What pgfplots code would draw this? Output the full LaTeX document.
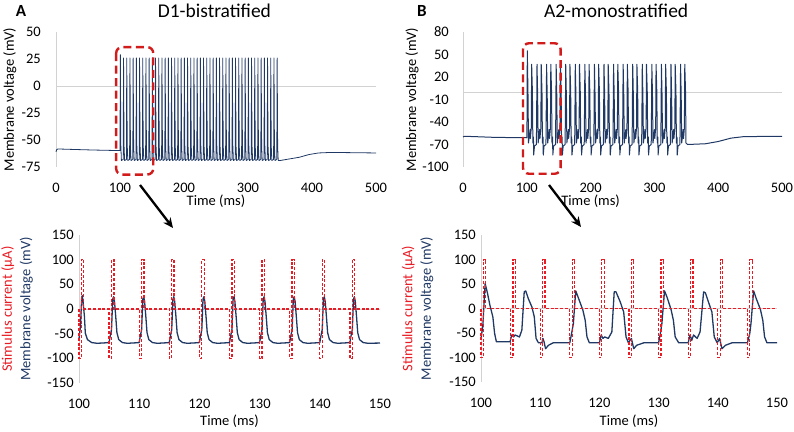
\documentclass[border=0pt]{standalone}
\usepackage{fontspec}
\setmainfont{Carlito}
\usepackage{pgfplots}
\pgfplotsset{compat=1.18}
\usetikzlibrary{arrows.meta}
\definecolor{navy}{RGB}{32,56,100}
\definecolor{sred}{RGB}{232,28,36}
\definecolor{boxred}{RGB}{210,28,28}
\definecolor{axgray}{RGB}{210,210,210}
\pgfplotsset{
  base/.style={scale only axis, clip=false,
    axis line style={draw=none}, major tick length=0pt, tick style={draw=none},
    /pgf/number format/assume math mode=true,
    ticklabel style={font=\fontsize{14.5}{17}\selectfont, inner sep=0pt},
    xticklabel style={anchor=center, yshift=-20.5pt},
    label style={font=\fontsize{14.5}{18.5}\selectfont},
    title style={font=\fontsize{19.5}{22}\selectfont, anchor=center},
    extra y ticks={0}, extra y tick labels={},
    extra y tick style={ymajorgrids=true, major grid style={axgray, line width=0.8pt}},
  },
  volt/.style={navy, line width=1.3pt, line join=round, no marks},
  stim/.style={sred, line width=1.25pt, dash pattern=on 3pt off 1.8pt, no marks},
}
\begin{document}
\begin{tikzpicture}
\useasboundingbox (0,0) rectangle (794pt,-431pt);
%================ Top A =================
\begin{axis}[base, at={(56pt,-167pt)}, anchor=south west, width=320pt, height=135pt,
  xmin=0, xmax=500, ymin=-75, ymax=50,
  xtick={0,100,...,500}, ytick={-75,-50,...,50},
  yticklabel style={anchor=east, xshift=-15pt},
  xlabel={Time (ms)}, xlabel style={at={(rel axis cs:0.5,-0.257)}, anchor=center},
  ylabel={Membrane voltage (mV)}, ylabel style={at={(rel axis cs:-0.144,0.5)}, anchor=center},
  title={D1-bistratified}, title style={at={(rel axis cs:0.495,1.11)}}]
\draw[axgray, line width=0.8pt] (rel axis cs:0,0) -- (rel axis cs:0,1);
\addplot[volt, line width=0.8pt] coordinates {
(0,-61)(1,-59)(3,-58.3)(30,-58.8)(60,-59.3)(100,-59.8)
(100.55,29)(101.3,-55)(102.2,-69)
(105,-68)(105.55,26)(106.3,-55)(107.2,-69)
(110,-68)(110.55,26)(111.3,-55)(112.2,-69)
(115,-68)(115.55,26)(116.3,-55)(117.2,-69)
(120,-68)(120.55,26)(121.3,-55)(122.2,-69)
(125,-68)(125.55,26)(126.3,-55)(127.2,-69)
(130,-68)(130.55,26)(131.3,-55)(132.2,-69)
(135,-68)(135.55,26)(136.3,-55)(137.2,-69)
(140,-68)(140.55,26)(141.3,-55)(142.2,-69)
(145,-68)(145.55,26)(146.3,-55)(147.2,-69)
(150,-68)(150.55,26)(151.3,-55)(152.2,-69)
(155,-68)(155.55,26)(156.3,-55)(157.2,-69)
(160,-68)(160.55,26)(161.3,-55)(162.2,-69)
(165,-68)(165.55,26)(166.3,-55)(167.2,-69)
(170,-68)(170.55,26)(171.3,-55)(172.2,-69)
(175,-68)(175.55,26)(176.3,-55)(177.2,-69)
(180,-68)(180.55,26)(181.3,-55)(182.2,-69)
(185,-68)(185.55,26)(186.3,-55)(187.2,-69)
(190,-68)(190.55,26)(191.3,-55)(192.2,-69)
(195,-68)(195.55,26)(196.3,-55)(197.2,-69)
(200,-68)(200.55,26)(201.3,-55)(202.2,-69)
(205,-68)(205.55,26)(206.3,-55)(207.2,-69)
(210,-68)(210.55,26)(211.3,-55)(212.2,-69)
(215,-68)(215.55,26)(216.3,-55)(217.2,-69)
(220,-68)(220.55,26)(221.3,-55)(222.2,-69)
(225,-68)(225.55,26)(226.3,-55)(227.2,-69)
(230,-68)(230.55,26)(231.3,-55)(232.2,-69)
(235,-68)(235.55,26)(236.3,-55)(237.2,-69)
(240,-68)(240.55,26)(241.3,-55)(242.2,-69)
(245,-68)(245.55,26)(246.3,-55)(247.2,-69)
(250,-68)(250.55,26)(251.3,-55)(252.2,-69)
(255,-68)(255.55,26)(256.3,-55)(257.2,-69)
(260,-68)(260.55,26)(261.3,-55)(262.2,-69)
(265,-68)(265.55,26)(266.3,-55)(267.2,-69)
(270,-68)(270.55,26)(271.3,-55)(272.2,-69)
(275,-68)(275.55,26)(276.3,-55)(277.2,-69)
(280,-68)(280.55,26)(281.3,-55)(282.2,-69)
(285,-68)(285.55,26)(286.3,-55)(287.2,-69)
(290,-68)(290.55,26)(291.3,-55)(292.2,-69)
(295,-68)(295.55,26)(296.3,-55)(297.2,-69)
(300,-68)(300.55,26)(301.3,-55)(302.2,-69)
(305,-68)(305.55,26)(306.3,-55)(307.2,-69)
(310,-68)(310.55,26)(311.3,-55)(312.2,-69)
(315,-68)(315.55,26)(316.3,-55)(317.2,-69)
(320,-68)(320.55,26)(321.3,-55)(322.2,-69)
(325,-68)(325.55,26)(326.3,-55)(327.2,-69)
(330,-68)(330.55,26)(331.3,-55)(332.2,-69)
(335,-68)(335.55,26)(336.3,-55)(337.2,-69)
(340,-68)(340.55,26)(341.3,-55)(342.2,-69)
(345,-68)(345.55,26)(346.3,-55)(347.2,-69)
(350,-69)(355,-68.5)(365,-67.5)(380,-66)(395,-63.5)(410,-62)(430,-61.5)(500,-62)
};
\draw[boxred, line width=2.4pt, dash pattern=on 8pt off 4.5pt, rounded corners=6pt]
  (axis cs:94,36) rectangle (axis cs:152,-82);
\end{axis}
%================ Top B =================
\begin{axis}[base, at={(463pt,-167pt)}, anchor=south west, width=319pt, height=135pt,
  xmin=0, xmax=500, ymin=-100, ymax=80,
  xtick={0,100,...,500}, ytick={-100,-70,...,80},
  yticklabel style={anchor=east, xshift=-14pt},
  xlabel={Time (ms)}, xlabel style={at={(rel axis cs:0.40,-0.257)}, anchor=center},
  ylabel={Membrane voltage (mV)}, ylabel style={at={(rel axis cs:-0.160,0.5)}, anchor=center},
  title={A2-monostratified}, title style={at={(rel axis cs:0.48,1.11)}}]
\draw[axgray, line width=0.8pt] (rel axis cs:0,0) -- (rel axis cs:0,1);
\addplot[volt, line width=1.0pt] coordinates {
(0,-60)(2,-59)(50,-60.5)(100,-61)
(100.3,-40)(100.8,55)(102,-10)(102.6,-68)(105.2,-50)(105.6,-62)(107,-48)(107.6,37)(108.8,0)(109.5,-68)(110.4,-60)(110.8,-84)(112,-72)
(115,-70)(115.3,-45)(116,37)(117,-5)(117.8,-68)(120.2,-50)(120.6,-62)(122,-48)(122.6,37)(123.8,0)(124.5,-68)(125.4,-60)(125.8,-84)(127,-72)
(130,-70)(130.3,-45)(131,37)(132,-5)(132.8,-68)(135.2,-50)(135.6,-62)(137,-48)(137.6,37)(138.8,0)(139.5,-68)(140.4,-60)(140.8,-84)(142,-72)
(145,-70)(145.3,-45)(146,37)(147,-5)(147.8,-68)(150.2,-50)(150.6,-62)(152,-48)(152.6,37)(153.8,0)(154.5,-68)(155.4,-60)(155.8,-84)(157,-72)
(160,-70)(160.3,-45)(161,37)(162,-5)(162.8,-68)(165.2,-50)(165.6,-62)(167,-48)(167.6,37)(168.8,0)(169.5,-68)(170.4,-60)(170.8,-84)(172,-72)
(175,-70)(175.3,-45)(176,37)(177,-5)(177.8,-68)(180.2,-50)(180.6,-62)(182,-48)(182.6,37)(183.8,0)(184.5,-68)(185.4,-60)(185.8,-84)(187,-72)
(190,-70)(190.3,-45)(191,37)(192,-5)(192.8,-68)(195.2,-50)(195.6,-62)(197,-48)(197.6,37)(198.8,0)(199.5,-68)(200.4,-60)(200.8,-84)(202,-72)
(205,-70)(205.3,-45)(206,37)(207,-5)(207.8,-68)(210.2,-50)(210.6,-62)(212,-48)(212.6,37)(213.8,0)(214.5,-68)(215.4,-60)(215.8,-84)(217,-72)
(220,-70)(220.3,-45)(221,37)(222,-5)(222.8,-68)(225.2,-50)(225.6,-62)(227,-48)(227.6,37)(228.8,0)(229.5,-68)(230.4,-60)(230.8,-84)(232,-72)
(235,-70)(235.3,-45)(236,37)(237,-5)(237.8,-68)(240.2,-50)(240.6,-62)(242,-48)(242.6,37)(243.8,0)(244.5,-68)(245.4,-60)(245.8,-84)(247,-72)
(250,-70)(250.3,-45)(251,37)(252,-5)(252.8,-68)(255.2,-50)(255.6,-62)(257,-48)(257.6,37)(258.8,0)(259.5,-68)(260.4,-60)(260.8,-84)(262,-72)
(265,-70)(265.3,-45)(266,37)(267,-5)(267.8,-68)(270.2,-50)(270.6,-62)(272,-48)(272.6,37)(273.8,0)(274.5,-68)(275.4,-60)(275.8,-84)(277,-72)
(280,-70)(280.3,-45)(281,37)(282,-5)(282.8,-68)(285.2,-50)(285.6,-62)(287,-48)(287.6,37)(288.8,0)(289.5,-68)(290.4,-60)(290.8,-84)(292,-72)
(295,-70)(295.3,-45)(296,37)(297,-5)(297.8,-68)(300.2,-50)(300.6,-62)(302,-48)(302.6,37)(303.8,0)(304.5,-68)(305.4,-60)(305.8,-84)(307,-72)
(310,-70)(310.3,-45)(311,37)(312,-5)(312.8,-68)(315.2,-50)(315.6,-62)(317,-48)(317.6,37)(318.8,0)(319.5,-68)(320.4,-60)(320.8,-84)(322,-72)
(325,-70)(325.3,-45)(326,37)(327,-5)(327.8,-68)(330.2,-50)(330.6,-62)(332,-48)(332.6,37)(333.8,0)(334.5,-68)(335.4,-60)(335.8,-84)(337,-72)
(340,-70)(340.3,-45)(341,37)(342,-5)(342.8,-68)(345.2,-50)(345.6,-62)(347,-48)(347.6,37)(348.8,0)(349.5,-68)
(352,-70)(380,-69)(400,-66)(420,-61.5)(440,-59.5)(500,-59)
};
\draw[boxred, line width=2.4pt, dash pattern=on 8pt off 4.5pt, rounded corners=6pt]
  (axis cs:94,65) rectangle (axis cs:153,-109);
\end{axis}
%================ Bottom A =================
\begin{axis}[base, at={(79pt,-383pt)}, anchor=south west, width=301pt, height=148pt,
  xmin=100, xmax=150, ymin=-150, ymax=150,
  xtick={100,110,...,150}, ytick={-150,-100,...,150},
  yticklabel style={anchor=east, xshift=-5pt},
  xlabel={Time (ms)}, xlabel style={at={(rel axis cs:0.5,-0.261)}, anchor=center},
  ylabel={\textcolor{sred}{Stimulus current (µA)}\\\textcolor{navy}{Membrane voltage (mV)}},
  ylabel style={at={(rel axis cs:-0.206,0.5)}, anchor=center, align=center}]
\draw[axgray, line width=0.8pt] (rel axis cs:0,0) -- (rel axis cs:0,1);
\addplot[volt] coordinates {
(100,-60)(100.25,-35)(100.45,24)(100.55,27)(100.7,12)(100.9,-15)(101.05,-49)(101.4,-62)(102.1,-68)(103,-69.5)(104.5,-68.5)
(105,-68)(105.15,-57)(105.4,-42)(105.6,20)(105.75,25)(105.9,15)(106.1,-15)(106.3,-48)(106.6,-62)(107.2,-68)(108,-69.5)(109.5,-68.5)
(110,-68)(110.15,-57)(110.4,-42)(110.6,20)(110.75,25)(110.9,15)(111.1,-15)(111.3,-48)(111.6,-62)(112.2,-68)(113,-69.5)(114.5,-68.5)
(115,-68)(115.15,-57)(115.4,-42)(115.6,20)(115.75,25)(115.9,15)(116.1,-15)(116.3,-48)(116.6,-62)(117.2,-68)(118,-69.5)(119.5,-68.5)
(120,-68)(120.15,-57)(120.4,-42)(120.6,20)(120.75,25)(120.9,15)(121.1,-15)(121.3,-48)(121.6,-62)(122.2,-68)(123,-69.5)(124.5,-68.5)
(125,-68)(125.15,-57)(125.4,-42)(125.6,20)(125.75,25)(125.9,15)(126.1,-15)(126.3,-48)(126.6,-62)(127.2,-68)(128,-69.5)(129.5,-68.5)
(130,-68)(130.15,-57)(130.4,-42)(130.6,20)(130.75,25)(130.9,15)(131.1,-15)(131.3,-48)(131.6,-62)(132.2,-68)(133,-69.5)(134.5,-68.5)
(135,-68)(135.15,-57)(135.4,-42)(135.6,20)(135.75,25)(135.9,15)(136.1,-15)(136.3,-48)(136.6,-62)(137.2,-68)(138,-69.5)(139.5,-68.5)
(140,-68)(140.15,-57)(140.4,-42)(140.6,20)(140.75,25)(140.9,15)(141.1,-15)(141.3,-48)(141.6,-62)(142.2,-68)(143,-69.5)(144.5,-68.5)
(145,-68)(145.15,-57)(145.4,-42)(145.6,20)(145.75,25)(145.9,15)(146.1,-15)(146.3,-48)(146.6,-62)(147.2,-68)(148,-69.5)(150,-69)
};
\addplot[stim] coordinates {
(100,0)(100,-100)(100.4,-100)(100.4,100)(100.8,100)(100.8,0)
(105,0)(105,-100)(105.4,-100)(105.4,100)(105.8,100)(105.8,0)
(110,0)(110,-100)(110.4,-100)(110.4,100)(110.8,100)(110.8,0)
(115,0)(115,-100)(115.4,-100)(115.4,100)(115.8,100)(115.8,0)
(120,0)(120,-100)(120.4,-100)(120.4,100)(120.8,100)(120.8,0)
(125,0)(125,-100)(125.4,-100)(125.4,100)(125.8,100)(125.8,0)
(130,0)(130,-100)(130.4,-100)(130.4,100)(130.8,100)(130.8,0)
(135,0)(135,-100)(135.4,-100)(135.4,100)(135.8,100)(135.8,0)
(140,0)(140,-100)(140.4,-100)(140.4,100)(140.8,100)(140.8,0)
(145,0)(145,-100)(145.4,-100)(145.4,100)(145.8,100)(145.8,0)
(150,0)
};
\end{axis}
%================ Bottom B =================
\begin{axis}[base, at={(481pt,-382pt)}, anchor=south west, width=296pt, height=147pt,
  xmin=100, xmax=150, ymin=-150, ymax=150,
  xtick={100,110,...,150}, ytick={-150,-100,...,150},
  yticklabel style={anchor=east, xshift=-5pt},
  xlabel={Time (ms)}, xlabel style={at={(rel axis cs:0.5,-0.268)}, anchor=center},
  ylabel={\textcolor{sred}{Stimulus current (µA)}\\\textcolor{navy}{Membrane voltage (mV)}},
  ylabel style={at={(rel axis cs:-0.2145,0.5)}, anchor=center, align=center}]
\draw[axgray, line width=0.8pt] (rel axis cs:0,0) -- (rel axis cs:0,1);
\addplot[volt] coordinates {
(100,-61)(100.3,-37)(100.7,51)(101.1,31)(101.5,7)(102,-17)(102.3,-51)(102.6,-68)(104.9,-68)(105.2,-54)(105.5,-58)(105.75,-54)(106.5,-58)(106.9,-44)(107.3,34)(107.55,36)(108,20)(108.6,3)(109,-17)(109.3,-61)(109.7,-70)(110.3,-70)(110.45,-61)(110.65,-68)(110.9,-82)(111.4,-75)(112.2,-70)(115,-70)
(115.3,-51)(115.6,-31)(116,36)(116.5,20)(117.2,-3)(117.6,-24)(117.9,-58)(118.3,-70)(120,-70)(120.3,-54)(120.6,-61)(120.9,-58)(121.5,-61)(122.1,-48)(122.5,34)(122.8,34)(123.5,14)(124.1,-7)(124.5,-58)(124.9,-70)(125.4,-61)(125.8,-82)(126.3,-75)(127.5,-70)(130,-70)
(130.3,-51)(130.55,-31)(131,36)(131.4,24)(132.1,-2)(132.5,-24)(132.8,-58)(133.4,-70)(135,-70)(135.3,-54)(135.6,-65)(135.9,-54)(136.5,-61)(137,-48)(137.6,34)(137.9,32)(138.4,14)(139,-7)(139.4,-58)(139.9,-70)(140.3,-61)(140.7,-82)(141.3,-75)(142.4,-70)(145,-70)
(145.4,-51)(145.6,-31)(146.05,36)(146.5,20)(147.2,-2)(147.6,-24)(147.9,-58)(148.3,-70)(150,-70)
};
\addplot[stim] coordinates {
(100,0)(100,-100)(100.4,-100)(100.4,100)(100.8,100)(100.8,0)
(105,0)(105,-100)(105.4,-100)(105.4,100)(105.8,100)(105.8,0)
(110,0)(110,-100)(110.4,-100)(110.4,100)(110.8,100)(110.8,0)
(115,0)(115,-100)(115.4,-100)(115.4,100)(115.8,100)(115.8,0)
(120,0)(120,-100)(120.4,-100)(120.4,100)(120.8,100)(120.8,0)
(125,0)(125,-100)(125.4,-100)(125.4,100)(125.8,100)(125.8,0)
(130,0)(130,-100)(130.4,-100)(130.4,100)(130.8,100)(130.8,0)
(135,0)(135,-100)(135.4,-100)(135.4,100)(135.8,100)(135.8,0)
(140,0)(140,-100)(140.4,-100)(140.4,100)(140.8,100)(140.8,0)
(145,0)(145,-100)(145.4,-100)(145.4,100)(145.8,100)(145.8,0)
(150,0)
};
\end{axis}
%================ Annotations =================
\node[font=\bfseries\fontsize{17}{20}\selectfont] at (21pt,-11pt) {A};
\node[font=\bfseries\fontsize{17}{20}\selectfont] at (422pt,-11pt) {B};
\draw[line width=2.3pt, -{Stealth[length=10pt,width=9pt]}] (140pt,-185pt) -- (173pt,-228pt);
\draw[line width=2.3pt, -{Stealth[length=10pt,width=9pt]}] (549pt,-185pt) -- (581pt,-227pt);
\end{tikzpicture}
\end{document}
